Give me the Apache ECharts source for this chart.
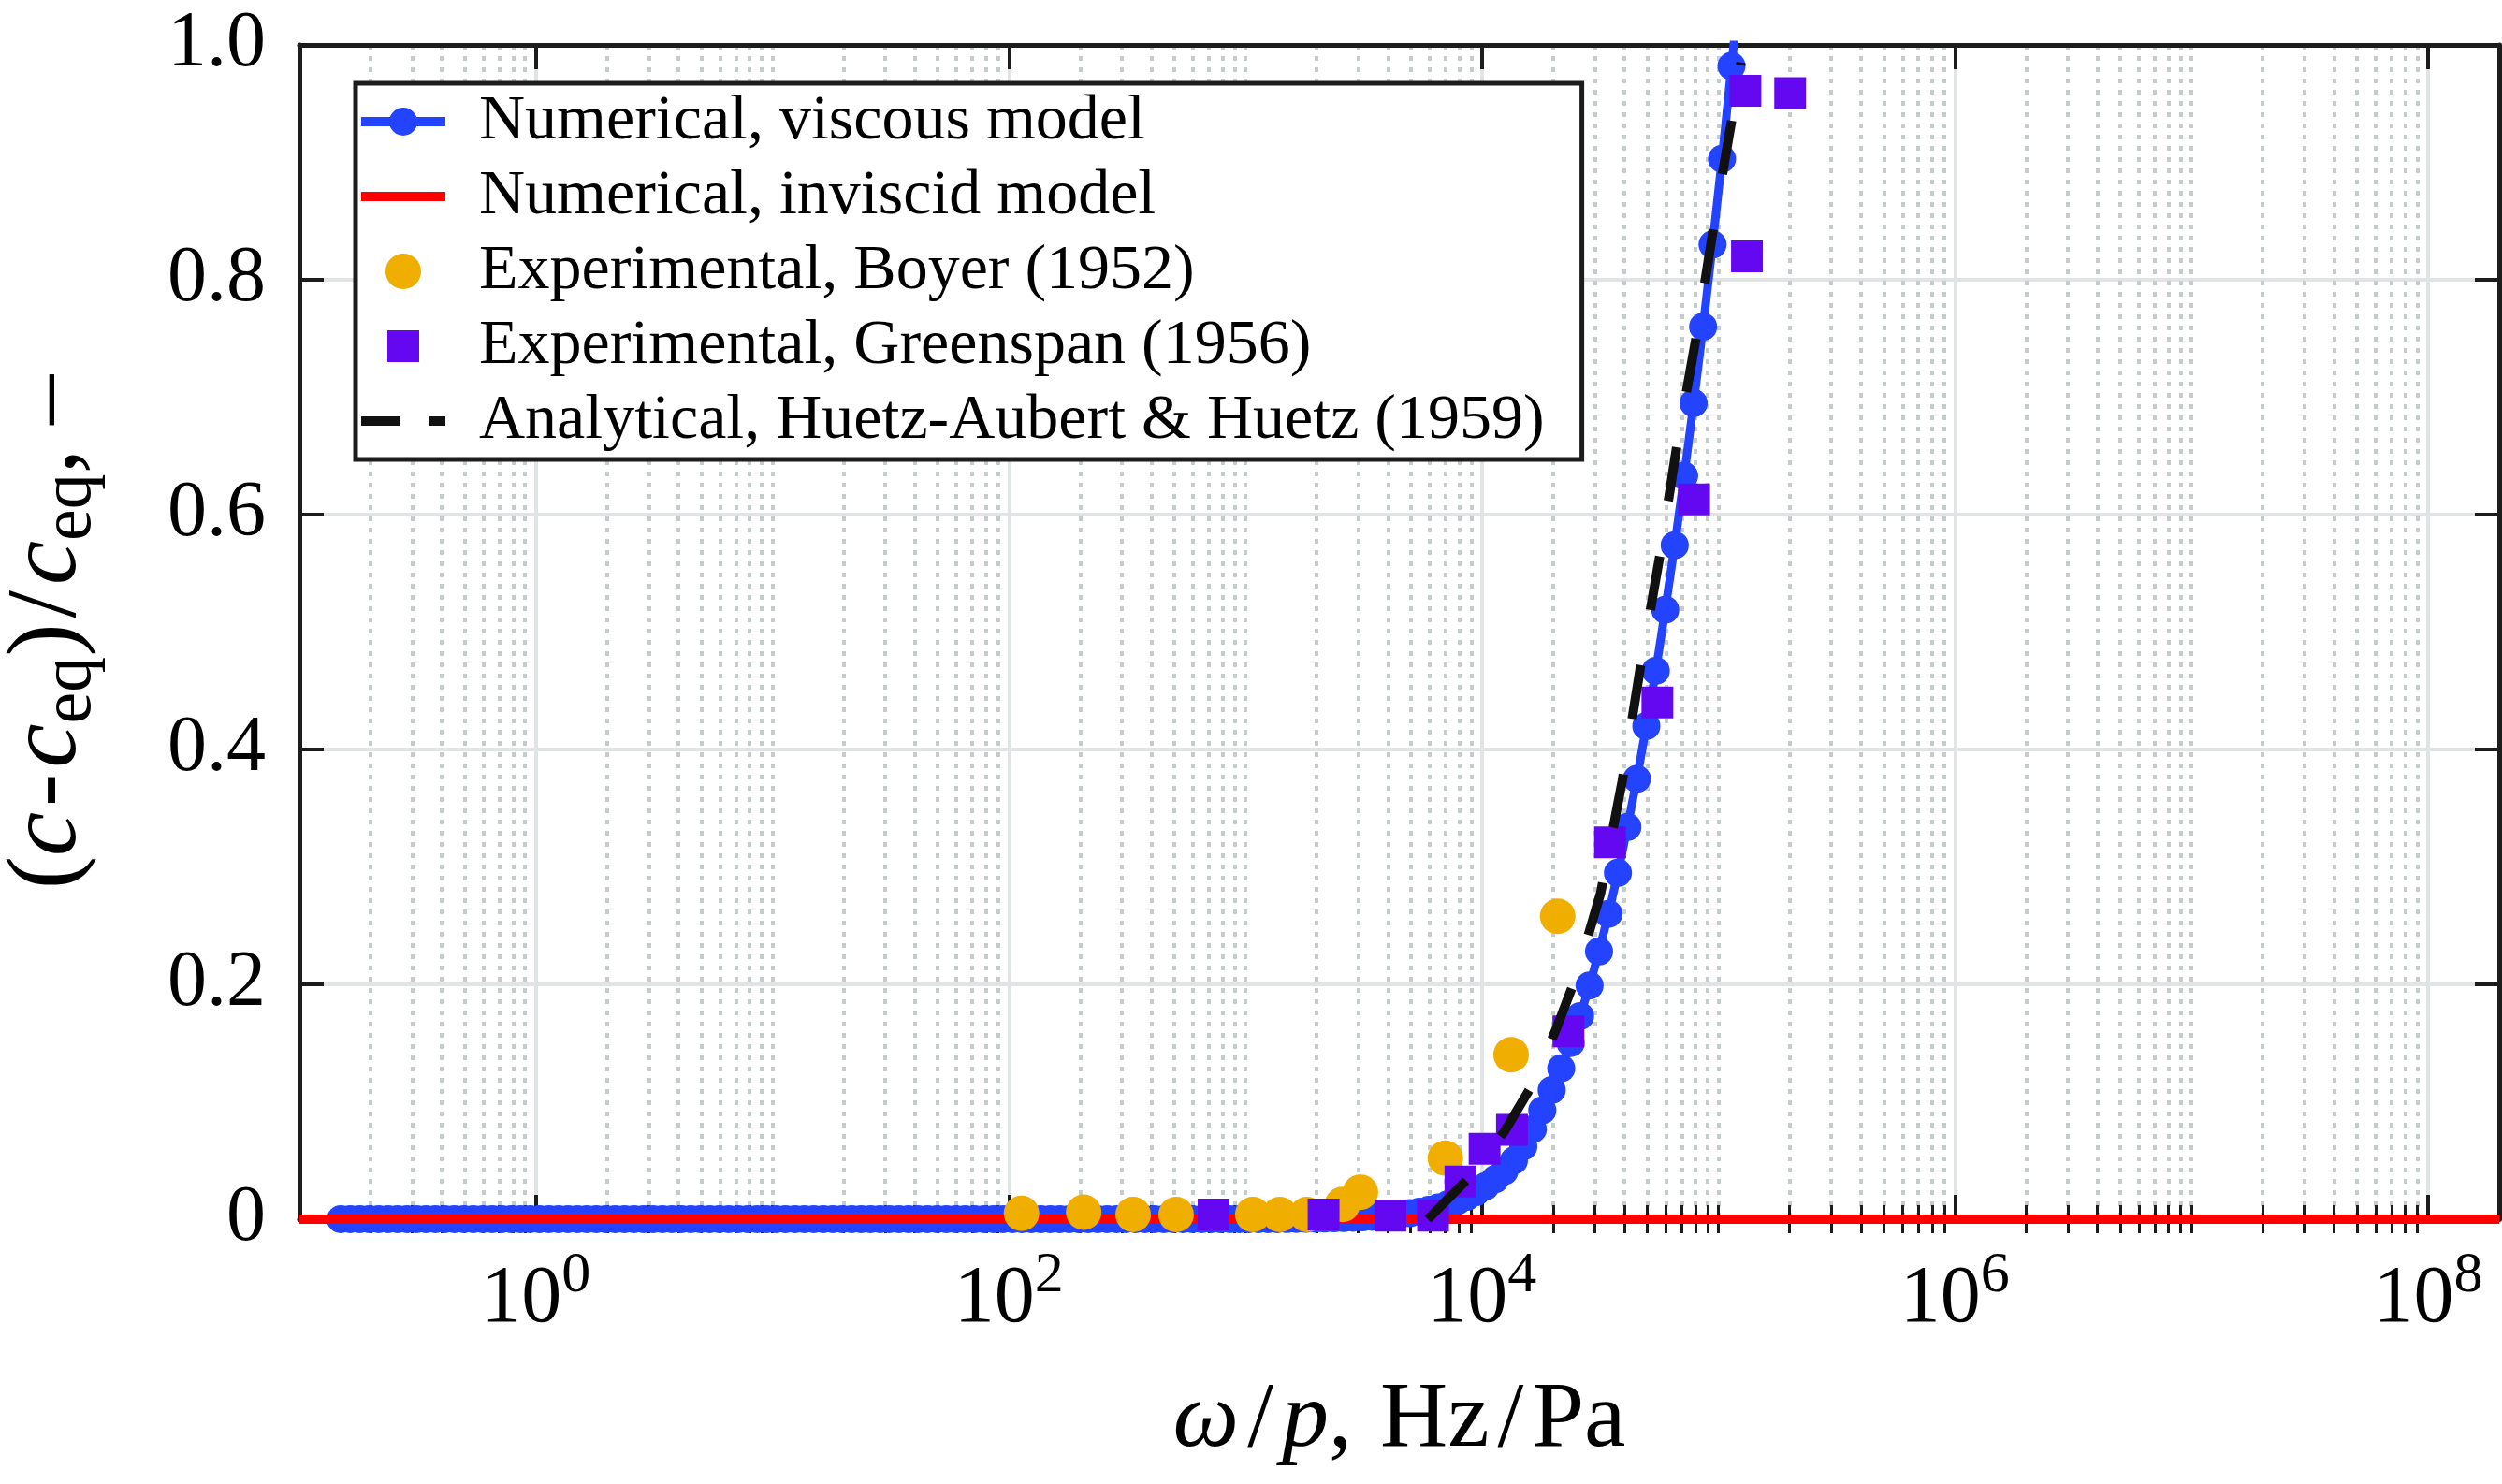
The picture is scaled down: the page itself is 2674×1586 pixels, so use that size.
<!DOCTYPE html>
<html>
<head>
<meta charset="utf-8">
<script src="https://cdn.jsdelivr.net/npm/echarts@6/dist/echarts.min.js"></script>
<style>html,body{margin:0;padding:0;background:#fff}#c{width:2674px;height:1586px}</style>
</head>
<body>
<div id="c"></div>
<script>
// ---------------- data ----------------
const seriesNames = [
  'Numerical, viscous model',
  'Numerical, inviscid model',
  'Experimental, Boyer (1952)',
  'Experimental, Greenspan (1956)',
  'Analytical, Huetz-Aubert & Huetz (1959)'
];

// Numerical, viscous model (blue line with circle markers)
const viscousX = [
  0.1496,0.1641,0.1799,0.1972,0.2163,0.2371,0.2600,0.2851,0.3126,0.3428,0.3758,0.4121,0.4519,0.4955,0.5433,0.5957,0.6531,0.7161,0.7852,0.8610,0.9441,
  1.035,1.135,1.245,1.365,
  1.496,1.641,1.799,1.972,2.163,2.371,2.600,2.851,3.126,3.428,3.758,4.121,4.519,4.955,5.433,5.957,6.531,7.161,7.852,8.610,9.441,
  10.35,11.35,12.45,13.65,
  14.96,16.41,17.99,19.72,21.63,23.71,26.00,28.51,31.26,34.28,37.58,41.21,45.19,49.55,54.33,59.57,65.31,71.61,78.52,86.10,94.41,
  103.5,113.5,124.5,136.5,
  149.6,164.1,179.9,197.2,216.3,237.1,260.0,285.1,312.6,342.8,375.8,412.1,451.9,495.5,543.3,595.7,653.1,716.1,785.2,861.0,944.1,
  1035,1135,1245,1365,
  1496,1641,1799,1972,2163,2371,2600,2851,3126,3428,3758,4121,4519,4955,5433,5957,6531,7161,7852,8610,9441,
  10350,11350,12450,13650,
  14960,16410,17990,19720,21630,23710,26000,28510,31260,34280,37580,41210,45190,49550,54330,59570,65310,71610,78520,86100,94410,
  103500,113500,124500
];
const viscousY = [
  0,0,0,0,0,0,0,0,0,0,0,0,0,0,0,0,0,0,0,0,0,
  0,0,0,0,
  0,0,0,0,0,0,0,0,0,0,0,0,0,0,0,0,0,0,0,0,0,
  0,0,0,0,
  0,0,0,0,0,0,0,0,0,0,0,0,0,0,0,0,0,0,0,0,0,
  0,0,0,0,
  0,0,0,0,0,0,0,0,0,0,0,0,0,0,0,0,0,0,0,0,0,
  0,0,0,0,
  0.0001,0.0002,0.0003,0.0004,0.0005,0.0007,0.0009,0.0012,0.0015,0.002,0.0025,0.0032,0.004,0.0051,0.0064,0.008,0.010,0.0125,0.0155,0.019,0.023,
  0.028,0.034,0.041,0.050,
  0.062,0.0767,0.0927,0.110,0.1285,0.150,0.173,0.199,0.228,0.260,0.295,0.334,0.375,0.420,0.467,0.519,0.574,0.633,0.695,0.760,0.830,
  0.903,0.982,1.06
];

// Numerical, inviscid model (red line)
const inviscidX = [0.1, 2e8];
const inviscidY = [0, 0];

// Experimental, Boyer (1952)
const boyerX = [113, 207, 335, 509, 1074, 1397, 1820, 2570, 3062, 7000, 13280, 20900];
const boyerY = [0.005, 0.006, 0.004, 0.004, 0.004, 0.004, 0.004, 0.0125, 0.023, 0.052, 0.140, 0.258];

// Experimental, Greenspan (1956)
const greenspanX = [733, 2140, 4100, 6210, 8110, 10260, 13390, 23200, 34800, 55200, 78900, 130000, 132000, 201000];
const greenspanY = [0.004, 0.004, 0.003, 0.003, 0.032, 0.060, 0.076, 0.160, 0.321, 0.440, 0.613, 0.961, 0.820, 0.959];

// Analytical, Huetz-Aubert & Huetz (1959)
const analyticX = [5900, 7310, 8850, 12470, 16600, 20600, 25060, 31770, 39170, 46670, 56490, 66990, 81470, 97050, 116700, 124500];
const analyticY = [0, 0.019, 0.036, 0.075, 0.117, 0.162, 0.207, 0.278, 0.373, 0.469, 0.565, 0.661, 0.757, 0.855, 0.949, 0.985];

// axis ticks
const xMajorTicks = [1, 100, 1e4, 1e6, 1e8];
const xOddDecades = [10, 1e3, 1e5, 1e7];
const xMinorMultipliers = [2, 3, 4, 5, 6, 7, 8, 9];
const xMinorDecades = [0.1, 1, 10, 100, 1e3, 1e4, 1e5, 1e6, 1e7];
const yTicks = [0, 0.2, 0.4, 0.6, 0.8, 1.0];

// ---------------- build ----------------
const zip = (xs, ys) => xs.map((x, i) => [x, ys[i]]);
const xMinorTicks = [];
xMinorDecades.forEach(d => xMinorMultipliers.forEach(m => xMinorTicks.push(Number((m * d).toPrecision(3)))));
xOddDecades.forEach(v => xMinorTicks.push(v));

const FONT = "'Liberation Serif', 'Times New Roman', serif";
const BLUE = '#2343ff', RED = '#ff0000', YELLOW = '#efae00', PURPLE = '#6508f2', BLACK = '#111111';
const FRAME = '#1c1c1c';
const GRID_MAJOR = '#e1e4e4', GRID_MINOR = '#c6cccc';

const corner = 'M0,0h0.01v0.01h-0.01z M89.99,39.99h0.01v0.01h-0.01z ';
const icons = [
  'path://' + corner + 'M0,15h90v10h-90z M60,20a15,15 0 1,1 -30,0a15,15 0 1,1 30,0z',
  'path://' + corner + 'M0,15h90v10h-90z',
  'path://' + corner + 'M64,20a19,19 0 1,1 -38,0a19,19 0 1,1 38,0z',
  'path://' + corner + 'M28,3h34v34h-34z',
  'path://' + corner + 'M0,15h42v10h-42z M73,15h17v10h-17z'
];

const logCommon = { type: 'log', logBase: 10, min: 0.1, max: 2e8, gridIndex: 0 };
const tickMajor = { show: true, inside: true, length: 26, lineStyle: { color: FRAME, width: 4 } };
const tickMinor = { show: true, inside: true, length: 15, lineStyle: { color: FRAME, width: 3 } };
const frameLine = { show: true, onZero: false, lineStyle: { color: FRAME, width: 5 } };

const tx = (size, lh, extra) => Object.assign({ fontFamily: FONT, fontSize: size, lineHeight: lh, color: '#000' }, extra || {});

const chart = echarts.init(document.getElementById('c'), null, { renderer: 'canvas' });
chart.setOption({
  animation: false,
  backgroundColor: '#ffffff',
  grid: { left: 320, right: 3, top: 48, bottom: 283, outerBoundsMode: 'none', containLabel: false },
  legend: {
    data: seriesNames.map((n, i) => ({ name: n, icon: icons[i] })),
    orient: 'vertical',
    left: 380, top: 89,
    itemWidth: 90, itemHeight: 40, itemGap: 10,
    padding: [6, 40, 6, 6],
    backgroundColor: '#ffffff',
    borderColor: FRAME, borderWidth: 5, borderRadius: 0,
    selectedMode: false,
    symbolKeepAspect: true,
    textStyle: { fontFamily: FONT, fontSize: 68, color: '#000', lineHeight: 70, padding: [0, 0, 0, 31] },
    z: 10
  },
  xAxis: [
    Object.assign({}, logCommon, {
      position: 'bottom',
      axisLine: frameLine,
      axisTick: Object.assign({}, tickMajor, { customValues: xMajorTicks }),
      minorTick: { show: false },
      axisLabel: {
        show: true, customValues: xMajorTicks, margin: 30,
        formatter: v => '{b|10}{s|' + Math.round(Math.log10(v)) + '}',
        rich: {
          b: tx(86, 112),
          s: tx(62, 62, { verticalAlign: 'top' })
        }
      },
      splitLine: { show: true, lineStyle: { color: GRID_MAJOR, width: 4 } },
      name: '{i|ω}{sl|/}{i|p}{n|,}{h|Hz}{sl|/}{n|Pa}',
      nameLocation: 'middle', nameGap: 160,
      nameTextStyle: {
        fontFamily: FONT, fontSize: 100, color: '#000',
        rich: {
          n: tx(100, 112),
          i: tx(100, 112, { fontStyle: 'italic' }),
          sl: tx(100, 112, { padding: [0, 9, 0, 9] }),
          h: tx(100, 112, { padding: [0, 0, 0, 30] })
        }
      },
      z: 0
    }),
    Object.assign({}, logCommon, {
      position: 'bottom',
      axisLine: { show: false },
      axisTick: Object.assign({}, tickMinor, { customValues: xMinorTicks }),
      minorTick: { show: false },
      axisLabel: { show: false },
      splitLine: { show: true, lineStyle: { color: GRID_MINOR, width: 4, type: [5, 7] } },
      z: 0
    }),
    Object.assign({}, logCommon, {
      position: 'top',
      axisLine: frameLine,
      axisTick: Object.assign({}, tickMajor, { customValues: xMajorTicks }),
      minorTick: { show: false },
      axisLabel: { show: false },
      splitLine: { show: false },
      z: 1
    }),
    Object.assign({}, logCommon, {
      position: 'top',
      axisLine: { show: false },
      axisTick: Object.assign({}, tickMinor, { customValues: xMinorTicks }),
      minorTick: { show: false },
      axisLabel: { show: false },
      splitLine: { show: false },
      z: 1
    })
  ],
  yAxis: [
    {
      type: 'value', min: 0, max: 1, interval: 0.2, position: 'left',
      axisLine: frameLine,
      axisTick: tickMajor,
      axisLabel: {
        margin: 36, fontFamily: FONT, fontSize: 84, color: '#000', padding: [0, 0, 14, 0],
        formatter: v => (Math.abs(v) < 1e-9 ? '0' : v.toFixed(1))
      },
      splitLine: { show: true, showMinLine: false, showMaxLine: false, lineStyle: { color: GRID_MAJOR, width: 4 } },
      name: '{n|(}{i|c}{m|-}{i|c}{s|eq}{n|)}{sl|/}{i|c}{s|eq}{n|,}{d|–}',
      nameLocation: 'middle', nameRotate: 90, nameGap: 206,
      nameTextStyle: {
        fontFamily: FONT, fontSize: 106, color: '#000',
        rich: {
          n: tx(106, 124),
          i: tx(106, 124, { fontStyle: 'italic' }),
          m: tx(106, 124, { padding: [0, 6, 0, 6] }),
          sl: tx(106, 124, { padding: [0, 6, 0, 6] }),
          d: tx(106, 124, { padding: [0, 0, 0, 26] }),
          s: tx(76, 54, { verticalAlign: 'bottom' })
        }
      },
      z: 0
    },
    {
      type: 'value', min: 0, max: 1, interval: 0.2, position: 'right',
      axisLine: frameLine,
      axisTick: tickMajor,
      axisLabel: { show: false },
      splitLine: { show: false },
      z: 1
    }
  ],
  series: [
    {
      name: seriesNames[0], type: 'line', xAxisIndex: 0, yAxisIndex: 0,
      data: zip(viscousX, viscousY),
      symbol: 'circle', symbolSize: 30, showSymbol: true, showAllSymbol: true,
      lineStyle: { color: BLUE, width: 9 }, itemStyle: { color: BLUE, borderWidth: 0 },
      clip: true, z: 2
    },
    {
      name: seriesNames[1], type: 'line', xAxisIndex: 0, yAxisIndex: 0,
      data: zip(inviscidX, inviscidY),
      symbol: 'none', lineStyle: { color: RED, width: 10 }, itemStyle: { color: RED },
      clip: true, z: 3
    },
    {
      name: seriesNames[2], type: 'scatter', xAxisIndex: 0, yAxisIndex: 0,
      data: zip(boyerX, boyerY),
      symbol: 'circle', symbolSize: 38, itemStyle: { color: YELLOW, opacity: 1 },
      z: 4
    },
    {
      name: seriesNames[3], type: 'scatter', xAxisIndex: 0, yAxisIndex: 0,
      data: zip(greenspanX, greenspanY),
      symbol: 'rect', symbolSize: 34, itemStyle: { color: PURPLE, opacity: 1 },
      z: 5
    },
    {
      name: seriesNames[4], type: 'line', xAxisIndex: 0, yAxisIndex: 0,
      data: zip(analyticX, analyticY),
      symbol: 'none', lineStyle: { color: BLACK, width: 10, type: [58, 60], cap: 'butt' },
      itemStyle: { color: BLACK },
      clip: true, z: 6
    }
  ]
});
</script>
</body>
</html>
